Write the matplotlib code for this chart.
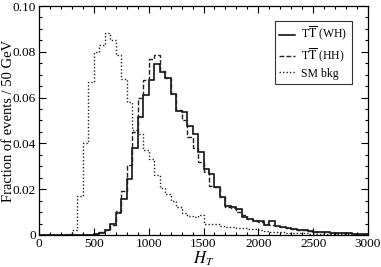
import numpy as np
import matplotlib
matplotlib.use("Agg")
import matplotlib.pyplot as plt
from matplotlib.ticker import MultipleLocator, FuncFormatter

# bin edges (GeV), 50 GeV bins from 0 to 3000
edges = np.arange(0, 3050, 50)

# T Tbar (WH) fractions, bins starting at 500 GeV
wh_start = 500
wh = [0.0005, 0.0010, 0.0020, 0.0050, 0.0097, 0.0156, 0.0243, 0.0380, 0.0514, 0.0610,
      0.0677, 0.0747, 0.0713, 0.0684, 0.0616, 0.0543, 0.0535, 0.0475, 0.0440, 0.0362,
      0.0287, 0.0266, 0.0210, 0.0165, 0.0127, 0.0121, 0.0115, 0.0080, 0.0068, 0.0061,
      0.0059, 0.0044, 0.0061, 0.0039, 0.0033, 0.0029, 0.0024, 0.0021, 0.0020, 0.0017,
      0.0015, 0.0013, 0.0012, 0.0010, 0.0009, 0.0008, 0.0007, 0.0006, 0.0005, 0.0005]

# T Tbar (HH) fractions, bins starting at 500 GeV
hh_start = 500
hh = [0.0005, 0.0012, 0.0020, 0.0045, 0.0105, 0.0190, 0.0306, 0.0450, 0.0600, 0.0675,
      0.0770, 0.0785, 0.0715, 0.0685, 0.0615, 0.0545, 0.0500, 0.0430, 0.0378, 0.0320,
      0.0277, 0.0215, 0.0210, 0.0165, 0.0121, 0.0116, 0.0100, 0.0087, 0.0070, 0.0060,
      0.0055, 0.0048, 0.0045, 0.0040, 0.0033, 0.0030, 0.0027, 0.0022, 0.0020, 0.0017,
      0.0015, 0.0013, 0.0012, 0.0010, 0.0009, 0.0008, 0.0007, 0.0006, 0.0005, 0.0004]

# SM background fractions, bins starting at 250 GeV
bkg_start = 250
bkg = [0.0005, 0.0020, 0.0170, 0.0400, 0.0670, 0.0800, 0.0830, 0.0880, 0.0850, 0.0785,
       0.0680, 0.0580, 0.0460, 0.0440, 0.0370, 0.0330, 0.0262, 0.0205, 0.0180, 0.0150,
       0.0120, 0.0095, 0.0084, 0.0080, 0.0088, 0.0048, 0.0050, 0.0048, 0.0040, 0.0036,
       0.0034, 0.0031, 0.0029, 0.0026, 0.0024, 0.0020, 0.0018, 0.0015, 0.0013, 0.0012,
       0.0010, 0.0009, 0.0008, 0.0007, 0.0006, 0.0005, 0.0005, 0.0004, 0.0004, 0.0003,
       0.0003, 0.0003, 0.0002, 0.0002, 0.0002]


def full(start, vals):
    h = np.zeros(len(edges) - 1)
    i0 = start // 50
    h[i0:i0 + len(vals)] = vals
    return h


plt.rcParams['font.family'] = ['Liberation Serif', 'DejaVu Serif']
plt.rcParams['mathtext.fontset'] = 'stix'

fig = plt.figure(figsize=(3.81, 2.67), dpi=100)
ax = fig.add_axes([0.1024, 0.12, 0.8636, 0.8575])

ax.stairs(full(wh_start, wh), edges, color='black', lw=1.1, ls='-',
          label=r'T$\overline{\rm T}$ (WH)')
ax.stairs(full(hh_start, hh), edges, color='#222222', lw=1.0, ls=(0, (3.5, 1.5)),
          label=r'T$\overline{\rm T}$ (HH)')
ax.stairs(full(bkg_start, bkg), edges, color='#222222', lw=1.0, ls=(0, (1, 1.5)),
          label='SM bkg')

ax.set_xlim(0, 3000)
ax.set_ylim(0, 0.1)
ax.xaxis.set_major_locator(MultipleLocator(500))
ax.xaxis.set_minor_locator(MultipleLocator(100))
ax.yaxis.set_major_locator(MultipleLocator(0.02))
ax.yaxis.set_minor_locator(MultipleLocator(0.005))
ax.yaxis.set_major_formatter(FuncFormatter(lambda v, p: '0' if abs(v) < 1e-9 else f'{v:.2f}'))
ax.tick_params(which='both', direction='in', top=True, right=True, labelsize=9.5, pad=2)
ax.tick_params(which='major', length=5, width=0.8)
ax.tick_params(which='minor', length=2.5, width=0.8)
for s in ax.spines.values():
    s.set_linewidth(0.9)

ax.set_xlabel(r'$H_T$', fontsize=12, labelpad=0)
ax.set_ylabel('Fraction of events / 50 GeV', fontsize=10.5)
ax.yaxis.set_label_coords(-0.074, 0.5)

leg = ax.legend(loc='upper right', bbox_to_anchor=(0.95, 0.935), fontsize=8.5,
                frameon=True, fancybox=False, edgecolor='black', handlelength=1.4,
                handletextpad=0.5, borderpad=0.35, labelspacing=0.25, borderaxespad=0)
leg.get_frame().set_linewidth(0.8)

fig.savefig('out.png', dpi=100)
